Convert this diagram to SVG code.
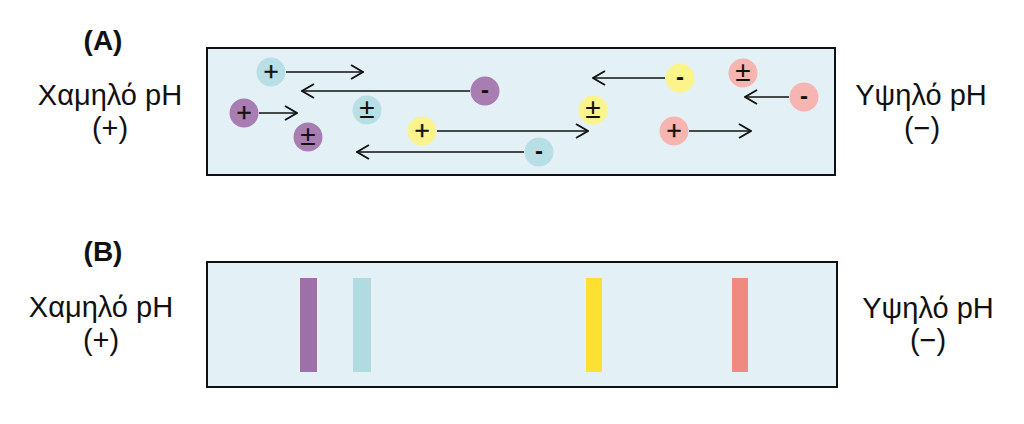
<svg xmlns="http://www.w3.org/2000/svg" width="1024" height="424" viewBox="0 0 1024 424">
<defs>
<style>
.lbl{font-family:"Liberation Sans",Arial,sans-serif;font-size:29px;fill:#111;text-anchor:middle}
.hd{font-family:"Liberation Sans",Arial,sans-serif;font-size:28px;font-weight:bold;fill:#111;text-anchor:middle}
.box{fill:#e3f1f7;stroke:#111;stroke-width:2}
.sym{font-family:"Liberation Sans",Arial,sans-serif;font-size:26px;fill:#111;text-anchor:middle;dominant-baseline:central;stroke:#111;stroke-width:0.4}
.pm{font-family:"Liberation Sans",Arial,sans-serif;font-size:28px;fill:#111;text-anchor:middle;dominant-baseline:central}
.dash{font-family:"Liberation Sans",Arial,sans-serif;font-size:24px;font-weight:bold;fill:#111;text-anchor:middle;dominant-baseline:central}
.arr{stroke:#111;stroke-width:1.6;fill:none;marker-end:url(#chev)}
.cy{fill:#b8dfe5}.pu{fill:#a87db2}.ye{fill:#fbf38c}.re{fill:#f6b5b1}
</style>
<marker id="chev" viewBox="0 0 14 16" refX="13" refY="8" markerWidth="14" markerHeight="16" markerUnits="userSpaceOnUse" orient="auto">
<path d="M1,1 L13,8 L1,15" fill="none" stroke="#111" stroke-width="1.9"/>
</marker>
</defs>
<rect width="1024" height="424" fill="#fff"/>

<g id="panelA">
<text class="hd" x="103" y="50">(A)</text>
<rect class="box" x="207" y="48" width="628" height="127"/>
<g id="labelA-left"><text class="lbl" x="110" y="105">Χαμηλό pH</text><text class="lbl" x="110" y="138">(+)</text></g>
<g id="labelA-right"><text class="lbl" x="921" y="105">Υψηλό pH</text><text class="lbl" x="922" y="138">(−)</text></g>
</g>

<g id="connectors">
<line class="arr" x1="286" y1="72" x2="363" y2="72"/>
<line class="arr" x1="470" y1="91" x2="302" y2="91"/>
<line class="arr" x1="259" y1="113" x2="297" y2="113"/>
<line class="arr" x1="437" y1="131" x2="588" y2="131"/>
<line class="arr" x1="524" y1="152" x2="357" y2="152"/>
<line class="arr" x1="665" y1="78" x2="593" y2="78"/>
<line class="arr" x1="789" y1="97" x2="745" y2="97"/>
<line class="arr" x1="689" y1="131" x2="751" y2="131"/>
</g>

<g id="ion-cyan-plus"><circle class="cy" cx="271" cy="72" r="14.5"/><text class="sym" x="271" y="71">+</text></g>
<g id="ion-purple-minus"><circle class="pu" cx="485" cy="91" r="14.5"/><text class="dash" x="485" y="89">-</text></g>
<g id="ion-purple-plus"><circle class="pu" cx="244" cy="113" r="14.5"/><text class="sym" x="244" y="112">+</text></g>
<g id="ion-cyan-pm"><circle class="cy" cx="367" cy="110" r="14.5"/><text class="pm" x="367" y="108">±</text></g>
<g id="ion-purple-pm"><circle class="pu" cx="308" cy="137" r="14.5"/><text class="pm" x="308" y="135">±</text></g>
<g id="ion-yellow-plus"><circle class="ye" cx="422" cy="131" r="14.5"/><text class="sym" x="422" y="130">+</text></g>
<g id="ion-cyan-minus"><circle class="cy" cx="539" cy="152" r="14.5"/><text class="dash" x="539" y="150">-</text></g>
<g id="ion-yellow-pm"><circle class="ye" cx="593" cy="110" r="14.5"/><text class="pm" x="593" y="108">±</text></g>
<g id="ion-yellow-minus"><circle class="ye" cx="680" cy="78" r="14.5"/><text class="dash" x="680" y="76">-</text></g>
<g id="ion-red-pm"><circle class="re" cx="743" cy="73" r="14.5"/><text class="pm" x="743" y="71">±</text></g>
<g id="ion-red-minus"><circle class="re" cx="804" cy="97" r="14.5"/><text class="dash" x="804" y="95">-</text></g>
<g id="ion-red-plus"><circle class="re" cx="674" cy="131" r="14.5"/><text class="sym" x="674" y="130">+</text></g>

<g id="panelB">
<text class="hd" x="103" y="261">(B)</text>
<rect class="box" x="207" y="262" width="630" height="125"/>
<g id="labelB-left"><text class="lbl" x="101" y="317">Χαμηλό pH</text><text class="lbl" x="101" y="350">(+)</text></g>
<g id="labelB-right"><text class="lbl" x="928" y="318">Υψηλό pH</text><text class="lbl" x="928" y="350">(−)</text></g>
<g id="band-purple"><rect x="300" y="278" width="17" height="94" fill="#9d70a9"/></g>
<g id="band-cyan"><rect x="353" y="278" width="18" height="94" fill="#afdbe1"/></g>
<g id="band-yellow"><rect x="586" y="278" width="16" height="94" fill="#fde132"/></g>
<g id="band-red"><rect x="732" y="278" width="16" height="94" fill="#f0897f"/></g>
</g>
</svg>
